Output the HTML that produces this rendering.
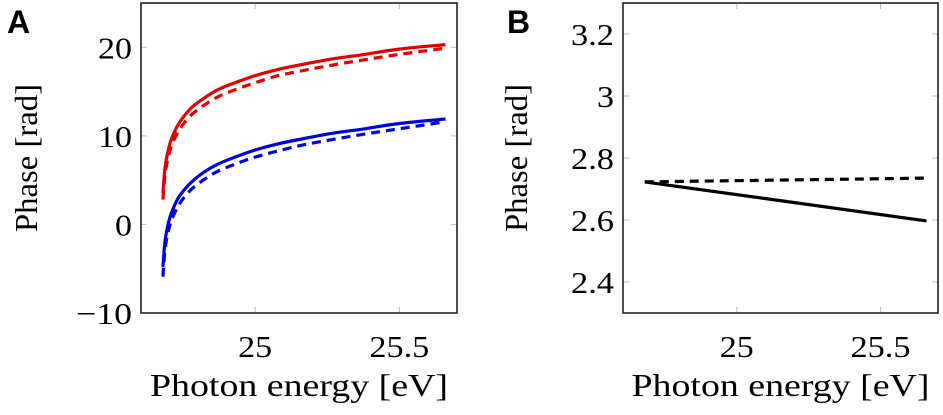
<!DOCTYPE html>
<html><head><meta charset="utf-8"><style>
html,body{margin:0;padding:0;background:#fff;}
svg{display:block;}
text{font-family:"Liberation Serif",serif;fill:#000;}
</style></head><body>
<svg id="chart" width="943" height="415" viewBox="0 0 943 415"></svg>
<script>
const xA = [24.68,24.685,24.69,24.70,24.71,24.73,24.75,24.78,24.82,24.87,24.93,25.0,25.08,25.17,25.27,25.38,25.5,25.66];
const redSolid = [3.5,5.7,7.0,8.6,9.7,11.1,12.1,13.2,14.2,15.2,16.0,16.8,17.5,18.1,18.7,19.2,19.8,20.3];
const redDashed = [2.8,4.9,6.2,7.8,8.9,10.3,11.3,12.4,13.4,14.4,15.2,16.0,16.8,17.4,18.0,18.6,19.2,19.9];
const blueSolid = [-4.8,-2.6,-1.3,0.3,1.35,2.8,3.75,4.8,5.85,6.8,7.6,8.4,9.1,9.7,10.3,10.8,11.4,11.9];
const blueDashed = [-5.9,-3.6,-2.2,-0.6,0.5,1.9,2.9,4.0,5.0,6.0,6.8,7.6,8.3,9.0,9.6,10.2,10.8,11.6];
const xB = [24.68,25.66];
const bSolid = [2.723,2.597];
const bDashed = [2.723,2.735];
const xTicks = [25,25.5];
const xTickLabels = ["25","25.5"];
const yTicksA = [-10,0,10,20];
const yTickLabelsA = ["\u221210","0","10","20"];
const yTicksB = [2.4,2.6,2.8,3.0,3.2];
const yTickLabelsB = ["2.4","2.6","2.8","3","3.2"];

const NS="http://www.w3.org/2000/svg";
const svg=document.getElementById('chart');
function mk(tag,attrs,parent){const e=document.createElementNS(NS,tag);for(const k in attrs)e.setAttribute(k,attrs[k]);(parent||svg).appendChild(e);return e;}
function labelWidth(s){let w=0;for(const c of s)w+=(c==='.'?9:(c==='\u2212'?22:17));return w;}

function smoothPath(pts){
  let d='M'+pts[0][0].toFixed(1)+','+pts[0][1].toFixed(1);
  for(let i=0;i<pts.length-1;i++){
    const p0=pts[i-1]||pts[i],p1=pts[i],p2=pts[i+1],p3=pts[i+2]||p2;
    const c1=[p1[0]+(p2[0]-p0[0])/6,p1[1]+(p2[1]-p0[1])/6];
    const c2=[p2[0]-(p3[0]-p1[0])/6,p2[1]-(p3[1]-p1[1])/6];
    d+=' C'+c1.map(v=>v.toFixed(1)).join(',')+' '+c2.map(v=>v.toFixed(1)).join(',')+' '+p2.map(v=>v.toFixed(1)).join(',');
  }
  return d;
}

function panel(cfg){
  const g=mk('g',{});
  
  
  const sx=v=>cfg.L+(v-cfg.x0)/(cfg.x1-cfg.x0)*(cfg.R-cfg.L);
  const sy=v=>cfg.B-(v-cfg.y0)/(cfg.y1-cfg.y0)*(cfg.B-cfg.T);
  cfg.xt.forEach((t,i)=>{
    const x=sx(t);
    mk('line',{x1:x,x2:x,y1:cfg.B,y2:cfg.B-6,stroke:'#bbb','stroke-width':1},g);
    mk('line',{x1:x,x2:x,y1:cfg.T,y2:cfg.T+6,stroke:'#bbb','stroke-width':1},g);
    const tx=mk('text',{x:x,y:cfg.B+44,'font-size':31,'text-anchor':'middle',textLength:labelWidth(cfg.xtl[i]),lengthAdjust:'spacingAndGlyphs'},g);
    tx.textContent=cfg.xtl[i];
    
    
  });
  cfg.yt.forEach((t,i)=>{
    const y=sy(t);
    mk('line',{x1:cfg.L,x2:cfg.L+6,y1:y,y2:y,stroke:'#bbb','stroke-width':1},g);
    mk('line',{x1:cfg.R,x2:cfg.R-6,y1:y,y2:y,stroke:'#bbb','stroke-width':1},g);
    const tx=mk('text',{x:cfg.L-9,y:y+11,'font-size':31,'text-anchor':'end',textLength:labelWidth(cfg.ytl[i]),lengthAdjust:'spacingAndGlyphs'},g);
    tx.textContent=cfg.ytl[i];
    
    
  });
  cfg.series.forEach(s=>{
    const pts=s.y.map((v,i)=>[sx(s.x[i]),sy(v)]);
    const p=mk('path',{d:smoothPath(pts),fill:'none',stroke:s.c,'stroke-width':3.2,'stroke-dasharray':s.dash?'9,6':'none','stroke-linejoin':'round'},g);
    
    
  });
  const box=mk('rect',{x:cfg.L,y:cfg.T,width:cfg.R-cfg.L,height:cfg.B-cfg.T,fill:'none',stroke:'#222','stroke-width':1.6},g);
  
  
  const xt=mk('text',{x:(cfg.L+cfg.R)/2,y:396,'font-size':32,'text-anchor':'middle',textLength:298,lengthAdjust:'spacingAndGlyphs'},g);
  xt.textContent='Photon energy [eV]';
  
  
  const yx=cfg.yTitleX, yy=(cfg.T+cfg.B)/2;
  const yt=mk('text',{x:yx,y:yy,'font-size':32,'text-anchor':'middle',textLength:148,lengthAdjust:'spacingAndGlyphs',transform:`rotate(-90 ${yx} ${yy})`},g);
  yt.textContent='Phase [rad]';
  
  
  const lb=mk('text',{x:cfg.labX,y:33,'font-size':32,'font-weight':'bold',style:'font-family:"Liberation Sans",sans-serif'},g);
  lb.textContent=cfg.label;
  
  
}

panel({name:'panel-a',label:'A',labX:7,L:141,R:457,T:3,B:313,x0:24.604,x1:25.70,y0:-10,y1:25,
  xt:xTicks,xtl:xTickLabels,yt:yTicksA,ytl:yTickLabelsA,yTitleX:37,
  series:[
    {name:'red-solid-line',x:xA,y:redSolid,c:'#e00000',dash:false},
    {name:'red-dashed-line',x:xA,y:redDashed,c:'#e00000',dash:true},
    {name:'blue-solid-line',x:xA,y:blueSolid,c:'#0000dd',dash:false},
    {name:'blue-dashed-line',x:xA,y:blueDashed,c:'#0000dd',dash:true}
  ]});
panel({name:'panel-b',label:'B',labX:507,L:623,R:938,T:3,B:313,x0:24.604,x1:25.70,y0:2.3,y1:3.3,
  xt:xTicks,xtl:xTickLabels,yt:yTicksB,ytl:yTickLabelsB,yTitleX:527,
  series:[
    {name:'black-dashed-line',x:xB,y:bDashed,c:'#000',dash:true},
    {name:'black-solid-line',x:xB,y:bSolid,c:'#000',dash:false}
  ]});
</script>
</body></html>
